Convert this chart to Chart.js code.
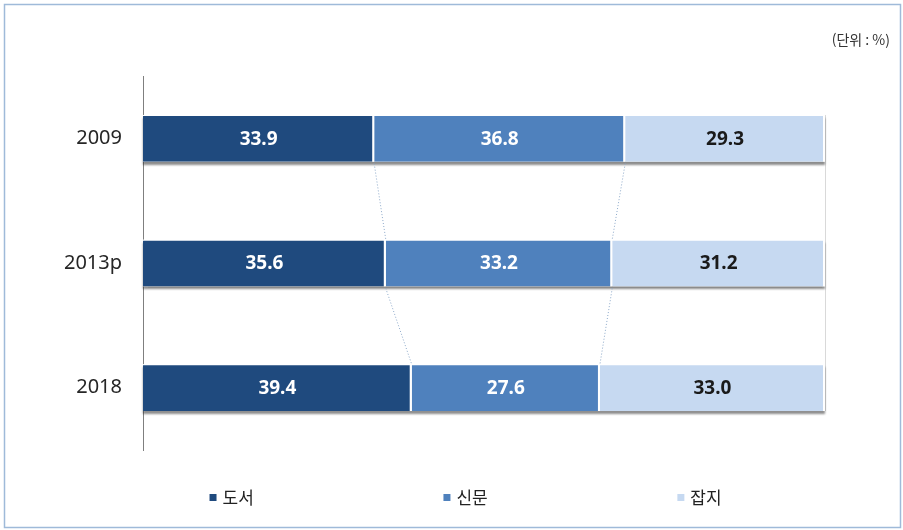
<!DOCTYPE html>
<html lang="ko">
<head>
    <meta charset="UTF-8" />
    <title>도서·신문·잡지 비중</title>
    <script src="https://cdn.jsdelivr.net/npm/chart.js@4.4.1/dist/chart.umd.min.js"></script>
    <style>
        html, body { margin: 0; padding: 0; background: #fff; }
    </style>
</head>
<body>
    <canvas id="myChart" width="903" height="530"></canvas>
    <script>
        // Data
        const years = ["2009", "2013p", "2018"];
        const seriesNames = ["도서", "신문", "잡지"];
        const books = [33.9, 35.6, 39.4];
        const newspapers = [36.8, 33.2, 27.6];
        const magazines = [29.3, 31.2, 33.0];
        const unitText = "(단위 : %)";

        const colors = ["#1f4a7e", "#4f81bd", "#c6d9f1"];
        const labelColors = ["#ffffff", "#ffffff", "#1a1a1a"];

        // Frame, 100% line and bar shadows
        const backgroundPlugin = {
            id: "background",
            beforeDraw(chart) {
                const ctx = chart.ctx;
                ctx.save();
                ctx.fillStyle = "#ffffff";
                ctx.fillRect(0, 0, chart.width, chart.height);
                ctx.strokeStyle = "#9fbad9";
                ctx.lineWidth = 1.5;
                ctx.strokeRect(4.5, 4.5, chart.width - 7, chart.height - 7);
                ctx.restore();
            },
            beforeDatasetsDraw(chart) {
                const ctx = chart.ctx;
                const first = chart.getDatasetMeta(0).data;
                const bars = chart.getDatasetMeta(2).data;
                const x = Math.round(chart.scales.x.getPixelForValue(100)) + 0.5;
                ctx.save();
                ctx.strokeStyle = "#d9d9d9";
                ctx.lineWidth = 1;
                ctx.beginPath();
                ctx.moveTo(x, bars[0].y - bars[0].height / 2);
                ctx.lineTo(x, bars[bars.length - 1].y + bars[bars.length - 1].height / 2);
                ctx.stroke();

                // shadow under each whole bar
                ctx.shadowColor = "rgba(0, 0, 0, 0.45)";
                ctx.shadowOffsetY = 3;
                ctx.shadowBlur = 2;
                ctx.fillStyle = "#ffffff";
                bars.forEach((bar, i) => {
                    const left = first[i].base;
                    ctx.fillRect(left, bar.y - bar.height / 2, bar.x - left, bar.height);
                });
                ctx.restore();
            }
        };

        // Dotted series lines and value labels
        const labelPlugin = {
            id: "labels",
            afterDatasetsDraw(chart) {
                const ctx = chart.ctx;
                ctx.save();
                ctx.strokeStyle = "#8eaacb";
                ctx.lineWidth = 1;
                ctx.setLineDash([1, 2]);
                for (let d = 0; d < 2; d++) {
                    const bars = chart.getDatasetMeta(d).data;
                    for (let j = 0; j < bars.length - 1; j++) {
                        const a = bars[j], b = bars[j + 1];
                        ctx.beginPath();
                        ctx.moveTo(a.x, a.y + a.height / 2 + 2);
                        ctx.lineTo(b.x, b.y - b.height / 2);
                        ctx.stroke();
                    }
                }
                ctx.restore();

                ctx.save();
                ctx.font = "bold 19px 'Noto Sans', sans-serif";
                ctx.textAlign = "center";
                ctx.textBaseline = "middle";
                chart.data.datasets.forEach((ds, d) => {
                    chart.getDatasetMeta(d).data.forEach((bar, i) => {
                        ctx.fillStyle = labelColors[d];
                        ctx.fillText(ds.data[i].toFixed(1), (bar.x + bar.base) / 2, bar.y + 1);
                    });
                });
                ctx.restore();
            },
            afterDraw(chart) {
                const ctx = chart.ctx;
                const area = chart.chartArea;
                ctx.save();
                ctx.fillStyle = "#333333";
                ctx.font = "14px 'Noto Sans CJK KR', sans-serif";
                ctx.textAlign = "right";
                ctx.textBaseline = "middle";
                ctx.fillText(unitText, 890, 40);

                // legend
                ctx.font = "17px 'Noto Sans CJK KR', sans-serif";
                ctx.textAlign = "left";
                const w = area.right - area.left;
                chart.data.datasets.forEach((ds, i) => {
                    const textW = ctx.measureText(ds.label).width;
                    const itemW = 7 + 6 + textW;
                    const cx = area.left + w * (0.13 + 0.343 * i);
                    const x0 = cx - itemW / 2;
                    const y = 497;
                    ctx.fillStyle = ds.backgroundColor;
                    ctx.fillRect(x0, y - 3, 7, 7);
                    ctx.fillStyle = "#222222";
                    ctx.fillText(ds.label, x0 + 13, y + 1);
                });
                ctx.restore();
            }
        };

        const seriesData = [books, newspapers, magazines];

        new Chart(document.getElementById("myChart"), {
            type: "bar",
            data: {
                labels: years,
                datasets: seriesNames.map((name, i) => ({
                    label: name,
                    data: seriesData[i],
                    backgroundColor: colors[i],
                    borderColor: "#ffffff",
                    borderWidth: { left: 0, right: 2, top: 1, bottom: 0 },
                    borderSkipped: false,
                    barPercentage: 0.375,
                    categoryPercentage: 1
                }))
            },
            options: {
                indexAxis: "y",
                responsive: false,
                animation: false,
                layout: {
                    padding: { left: 0, top: 76, right: 78, bottom: 80 }
                },
                scales: {
                    x: {
                        stacked: true,
                        display: false,
                        min: 0,
                        max: 100
                    },
                    y: {
                        stacked: true,
                        afterFit(scale) { scale.width = 143; },
                        grid: { display: true, drawOnChartArea: false, drawTicks: false },
                        border: { display: true, color: "#7f7f7f", width: 1 },
                        ticks: {
                            padding: 21,
                            color: "#262626",
                            font: { family: "'Noto Sans', sans-serif", size: 20 }
                        }
                    }
                },
                plugins: {
                    legend: { display: false },
                    tooltip: { enabled: false }
                }
            },
            plugins: [backgroundPlugin, labelPlugin]
        });
    </script>
</body>
</html>
